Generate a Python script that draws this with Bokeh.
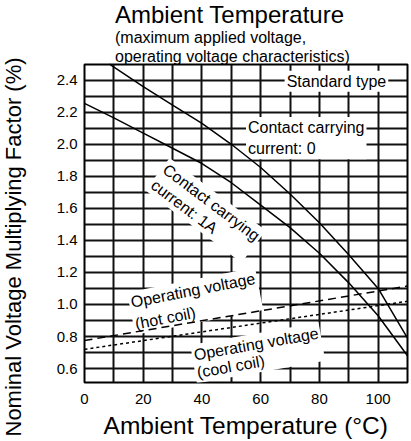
from bokeh.plotting import figure
from bokeh.models import Label, FixedTicker, Range1d, Title
from bokeh.layouts import row
from bokeh.embed import file_html
from bokeh.resources import INLINE

# ---- data ----
temp_contact0 = [8.5, 20, 30, 40, 50, 60, 70, 80, 90, 100, 110]
factor_contact0 = [2.50, 2.36, 2.245, 2.13, 2.0, 1.855, 1.69, 1.51, 1.31, 1.10, 0.79]

temp_contact1a = [0, 10, 20, 30, 40, 50, 60, 70, 80, 90, 100, 110]
factor_contact1a = [2.255, 2.165, 2.07, 1.975, 1.88, 1.76, 1.62, 1.48, 1.32, 1.135, 0.93, 0.68]

temp_coil = [0, 110]
factor_hot_coil = [0.775, 1.115]
factor_cool_coil = [0.72, 1.02]

x_ticks = [0, 20, 40, 60, 80, 100]
x_tick_labels = ["0", "20", "40", "60", "80", "100"]
y_ticks = [0.6, 0.8, 1.0, 1.2, 1.4, 1.6, 1.8, 2.0, 2.2, 2.4]
y_tick_labels = ["0.6", "0.8", "1.0", "1.2", "1.4", "1.6", "1.8", "2.0", "2.2", "2.4"]
x_grid = [0, 10, 20, 30, 40, 50, 60, 70, 80, 90, 100, 110]
y_grid = [0.6, 0.7, 0.8, 0.9, 1.0, 1.1, 1.2, 1.3, 1.4, 1.5, 1.6, 1.7, 1.8, 1.9,
          2.0, 2.1, 2.2, 2.3, 2.4]

title_text = "Ambient Temperature"
subtitle_1 = "(maximum applied voltage,"
subtitle_2 = "operating voltage characteristics)"
x_label = "Ambient Temperature (°C)"
y_label = "Nominal Voltage Multiplying Factor (%)"

FONT = "Liberation Sans"
STRIP_W = 34  # narrow plot on the left that carries the vertical axis title

# strip carrying the y-axis title (it sits lower than the frame centre in the reference)
strip = figure(width=STRIP_W, height=441, x_range=Range1d(0, 1), y_range=Range1d(0, 1),
               output_backend="svg", toolbar_location=None,
               x_axis_location=None, y_axis_location=None,
               min_border_left=0, min_border_right=0, min_border_top=64, min_border_bottom=58)
strip.grid.visible = False
strip.outline_line_color = None
strip.background_fill_color = "white"
strip.border_fill_color = "white"
strip.add_layout(Title(text=y_label, text_font=FONT, text_font_size="22px", text_font_style="normal",
                       text_color="black", align="left", vertical_align="top",
                       offset=-54, standoff=0), "left")

p = figure(width=411 - STRIP_W, height=441, x_range=Range1d(0, 110), y_range=Range1d(0.513, 2.498),
           output_backend="svg", toolbar_location=None, title=None,
           min_border_left=84 - STRIP_W, min_border_right=4, min_border_top=64, min_border_bottom=58)
p.background_fill_color = "white"
p.border_fill_color = "white"
p.outline_line_color = "black"
p.outline_line_width = 2

for g, t in ((p.xgrid, x_grid), (p.ygrid, y_grid)):
    g.ticker = FixedTicker(ticks=t)
    g.grid_line_color = "#111111"
    g.grid_line_width = 2
    g.grid_line_alpha = 1.0

p.xaxis.ticker = FixedTicker(ticks=x_ticks)
p.xaxis.major_label_overrides = {t: s for t, s in zip(x_ticks, x_tick_labels)}
p.yaxis.ticker = FixedTicker(ticks=y_ticks)
p.yaxis.major_label_overrides = {t: s for t, s in zip(y_ticks, y_tick_labels)}

for ax in (p.xaxis[0], p.yaxis[0]):
    ax.axis_line_color = None
    ax.major_tick_line_color = None
    ax.minor_tick_line_color = None
    ax.major_tick_out = 0
    ax.major_tick_in = 0
    ax.major_label_text_font = FONT
    ax.major_label_text_font_size = "15px"
    ax.major_label_text_color = "black"
    ax.axis_label_text_font = FONT
    ax.axis_label_text_font_style = "normal"
    ax.axis_label_text_color = "black"

p.xaxis.axis_label = x_label
p.xaxis.axis_label_text_font_size = "24.5px"
p.xaxis.major_label_standoff = 11
p.xaxis.axis_label_standoff = 5
p.yaxis.major_label_standoff = 7

# titles above the frame (first added sits closest to the frame)
for txt, size, so in ((subtitle_2, "16px", 0), (subtitle_1, "16px", 0), (title_text, "24px", -3)):
    p.add_layout(Title(text=txt, text_font=FONT, text_font_size=size, text_font_style="normal",
                       text_color="black", align="left", offset=30.5, standoff=so), "above")

# curves
p.line(temp_contact0, factor_contact0, line_color="black", line_width=1.5, level="overlay")
p.line(temp_contact1a, factor_contact1a, line_color="black", line_width=1.5, level="overlay")
p.line(temp_coil, factor_hot_coil, line_color="black", line_width=1.5, line_dash="8 5", level="overlay")
p.line(temp_coil, factor_cool_coil, line_color="black", line_width=1.5, line_dash="3 3", level="overlay")

def add_label(x, y, text, size="16px", align="left", baseline="top", angle=0, lh=1.2):
    p.add_layout(Label(x=x, y=y, text=text, text_font=FONT, text_font_size=size,
                       text_align=align, text_baseline=baseline, angle=angle, angle_units="deg",
                       text_color="black", text_line_height=lh,
                       background_fill_color="white", background_fill_alpha=1.0, padding=2))

# in-plot annotations
add_label(85.8, 2.394, "Standard type", align="center", baseline="middle")
add_label(55.0, 2.170, "Contact carrying\ncurrent: 0", lh=1.25)
add_label(29.0, 1.915, "Contact carrying\ncurrent: 1A", angle=-37, lh=1.15)
add_label(14.5, 1.075, "Operating voltage\n(hot coil)", angle=11, lh=1.3)
add_label(36.0, 0.747, "Operating voltage\n(cool coil)", angle=10, lh=1.05)

layout = row(strip, p, spacing=0)
open("out.html", "w").write(file_html(layout, INLINE))
